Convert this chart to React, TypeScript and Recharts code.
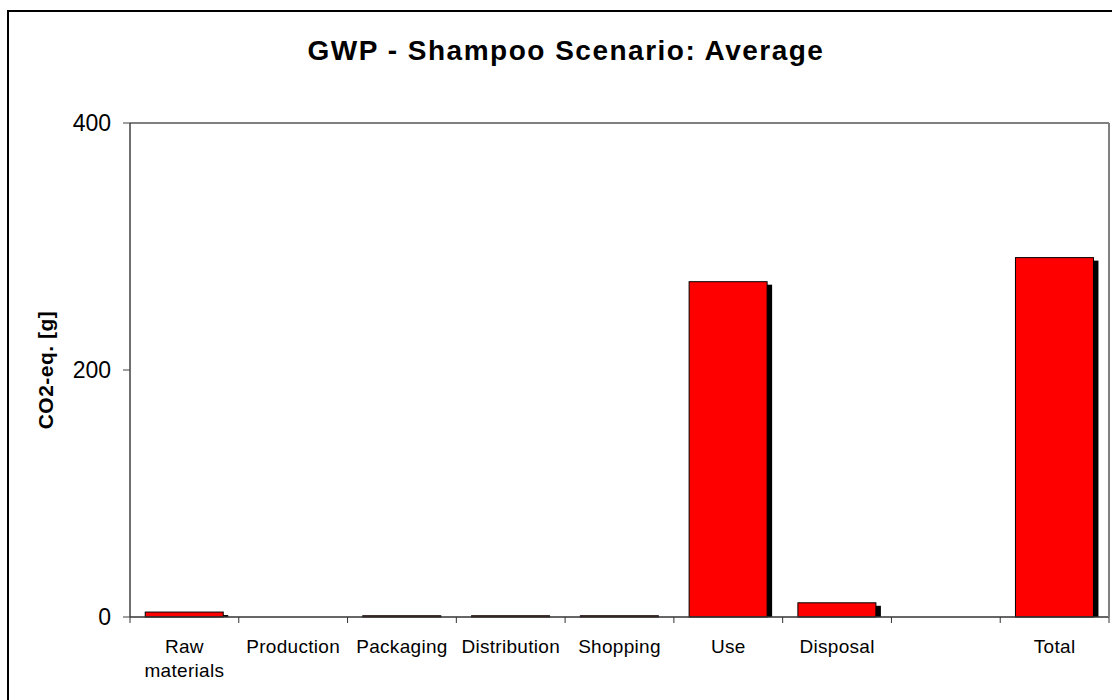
import React from 'react'
import { BarChart, Bar, XAxis, YAxis, ReferenceLine } from 'recharts'

const CATEGORIES = [
  'Raw materials', 'Production', 'Packaging', 'Distribution', 'Shopping',
  'Use', 'Disposal', '', 'Total',
]
const CO2_EQ = [4, 0, 1, 1, 1, 271.5, 11.5, 0, 291]
const Y_TICKS = [0, 200, 400]

const data = CATEGORIES.map((name, i) => ({ name, value: CO2_EQ[i] }))

const FONT = '"Liberation Sans", Arial, sans-serif'

// red bar with a black drop shadow, shadow clipped at the x axis
const ShadowBar = (props: any) => {
  const { x, y, width, height } = props
  if (!height || height <= 0) return null
  const dx = 5
  const dy = 3
  return (
    <g>
      {height > dy && (
        <rect x={x + dx} y={y + dy} width={width} height={height - dy} fill="#000" />
      )}
      <rect x={x} y={y} width={width} height={height} fill="#FF0000" stroke="#000" strokeWidth={1} />
    </g>
  )
}

// category label, wrapped on spaces; tick marks go on the band edges
const CategoryTick = (props: any) => {
  const { x, y, payload, width, visibleTicksCount, index } = props
  const half = payload.offset || width / visibleTicksCount / 2
  const words = String(payload.value).split(' ')
  const lines = words.length > 1 ? words : [payload.value]
  return (
    <g>
      <line x1={x - half} x2={x - half} y1={y} y2={y + 6} stroke="#333" />
      {index === visibleTicksCount - 1 && (
        <line x1={x + half} x2={x + half} y1={y} y2={y + 6} stroke="#333" />
      )}
      <text x={x} y={y + 36} textAnchor="middle" fill="#000" fontSize={19} fontFamily={FONT} letterSpacing={0.3}>
        {lines.map((l: string, i: number) => (
          <tspan key={i} x={x} dy={i === 0 ? 0 : 24}>{l}</tspan>
        ))}
      </text>
    </g>
  )
}

const YTitle = (props: any) => {
  const { viewBox } = props
  const cx = viewBox.x + 45
  const cy = viewBox.y + viewBox.height / 2
  return (
    <text
      x={cx}
      y={cy}
      transform={`rotate(-90 ${cx} ${cy})`}
      textAnchor="middle"
      dominantBaseline="central"
      fontSize={21}
      fontWeight="bold"
      fontFamily={FONT}
      letterSpacing={0.5}
      fill="#000"
    >
      CO2-eq. [g]
    </text>
  )
}

export default function App() {
  return (
    <div style={{ position: 'absolute', left: 0, top: 0, width: 1112, height: 700, overflow: 'hidden', background: '#fff' }}>
      <div style={{ position: 'absolute', left: 7, top: 10, width: 1200, height: 800, border: '2px solid #000' }} />
      <BarChart
        width={1112}
        height={700}
        data={data}
        margin={{ top: 123, right: 0, left: 0, bottom: 0 }}
        barCategoryGap="14%"
        style={{ position: 'absolute', left: 0, top: 0 }}
      >
        <text x={566} y={60} textAnchor="middle" fontSize={28} fontWeight="bold" fontFamily={FONT} letterSpacing={1.5} fill="#000">
          GWP - Shampoo Scenario: Average
        </text>
        <XAxis
          dataKey="name"
          interval={0}
          tick={<CategoryTick />}
          tickLine={false}
          tickSize={0}
          tickMargin={0}
          axisLine={{ stroke: '#333', strokeWidth: 1.5 }}
          height={83}
        />
        <YAxis
          domain={[0, 400]}
          ticks={Y_TICKS}
          width={130}
          tickSize={7}
          tickMargin={12}
          axisLine={{ stroke: '#404040', strokeWidth: 1.5 }}
          tickLine={{ stroke: '#404040' }}
          tick={{ fill: '#000', fontSize: 23, fontFamily: FONT }}
          label={<YTitle />}
        />
        <YAxis
          yAxisId="frame"
          orientation="right"
          domain={[0, 400]}
          width={3}
          tick={false}
          tickLine={false}
          axisLine={{ stroke: '#808080', strokeWidth: 2 }}
        />
        <ReferenceLine y={400} stroke="#808080" strokeWidth={2} />
        <Bar dataKey="value" shape={<ShadowBar />} isAnimationActive={false} />
      </BarChart>
    </div>
  )
}
